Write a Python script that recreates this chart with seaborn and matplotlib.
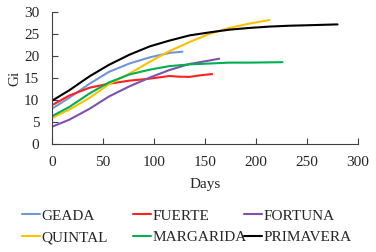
import numpy as np
import pandas as pd
import matplotlib
matplotlib.use("Agg")
import matplotlib.pyplot as plt
import seaborn as sns

# values (days, Gi)
geada_x = [0, 17, 37, 56, 76, 96, 115, 128]
geada_y = [8.0, 10.5, 13.7, 16.4, 18.3, 19.7, 20.7, 21.0]
fuerte_x = [0, 17, 37, 56, 76, 96, 115, 125, 135, 145, 157]
fuerte_y = [8.8, 11.0, 12.8, 13.7, 14.4, 14.85, 15.45, 15.3, 15.25, 15.6, 15.9]
fortuna_x = [0, 17, 37, 56, 76, 96, 115, 135, 155, 164]
fortuna_y = [3.9, 5.5, 8.0, 10.8, 13.1, 15.1, 16.8, 18.2, 19.0, 19.4]
quintal_x = [0, 17, 37, 56, 76, 96, 115, 135, 155, 174, 194, 213]
quintal_y = [5.9, 7.8, 10.5, 13.6, 16.0, 18.7, 21.1, 23.2, 25.1, 26.4, 27.4, 28.2]
margarida_x = [0, 17, 37, 56, 76, 96, 115, 135, 155, 174, 194, 226]
margarida_y = [6.3, 8.4, 11.5, 14.0, 15.8, 16.9, 17.7, 18.1, 18.3, 18.5, 18.5, 18.6]
primavera_x = [0, 17, 37, 56, 76, 96, 115, 135, 155, 174, 194, 213, 233, 250, 280]
primavera_y = [9.8, 12.2, 15.4, 18.0, 20.3, 22.2, 23.5, 24.7, 25.4, 26.0, 26.4,
               26.7, 26.9, 27.0, 27.2]

series = {
    "GEADA": (geada_x, geada_y),
    "FUERTE": (fuerte_x, fuerte_y),
    "FORTUNA": (fortuna_x, fortuna_y),
    "QUINTAL": (quintal_x, quintal_y),
    "MARGARIDA": (margarida_x, margarida_y),
    "PRIMAVERA": (primavera_x, primavera_y),
}
colores = {
    "GEADA": "#6f96d6",
    "FUERTE": "#ff2020",
    "FORTUNA": "#8050b0",
    "QUINTAL": "#ffc000",
    "MARGARIDA": "#00b050",
    "PRIMAVERA": "#000000",
}

df = pd.concat(
    [pd.DataFrame({"Days": x, "Gi": y, "var": k}) for k, (x, y) in series.items()],
    ignore_index=True,
)

sns.set_style("white")
plt.rcParams["font.family"] = ["Liberation Serif", "DejaVu Serif"]

fig = plt.figure(figsize=(3.76, 2.52), dpi=100)
ax = fig.add_axes([0.138, 0.429, 0.814, 0.523])
sns.lineplot(data=df, x="Days", y="Gi", hue="var", palette=colores,
             linewidth=1.5, ax=ax, legend=False, sort=False)

ax.set_xlim(0, 300)
ax.set_ylim(0, 30)
ax.set_xticks(np.arange(0, 301, 50))
ax.set_yticks(np.arange(0, 31, 5))
ax.tick_params(direction="in", length=4, width=0.8, color="#404040",
               labelsize=11, pad=9, bottom=True, left=True)
ax.set_xlabel("Days", fontsize=11, labelpad=6)
ax.set_ylabel("Gi", fontsize=11, labelpad=2)
for s in ["top", "right"]:
    ax.spines[s].set_visible(False)
for s in ["left", "bottom"]:
    ax.spines[s].set_color("#404040")
    ax.spines[s].set_linewidth(0.8)

# legend: three columns placed like the original
columnas = [["GEADA", "QUINTAL"], ["FUERTE", "MARGARIDA"], ["FORTUNA", "PRIMAVERA"]]
col_x = [22, 133, 244]
for nombres, px in zip(columnas, col_x):
    handles = [plt.Line2D([], [], color=colores[k], linewidth=1.5) for k in nombres]
    fig.legend(handles, nombres, loc="upper left",
               bbox_to_anchor=(px / 376, 1 - 209 / 252), frameon=False,
               fontsize=11, handlelength=1.2, handletextpad=0.05,
               borderpad=0, borderaxespad=0, labelspacing=0.5)

fig.savefig("out.png", dpi=100)
